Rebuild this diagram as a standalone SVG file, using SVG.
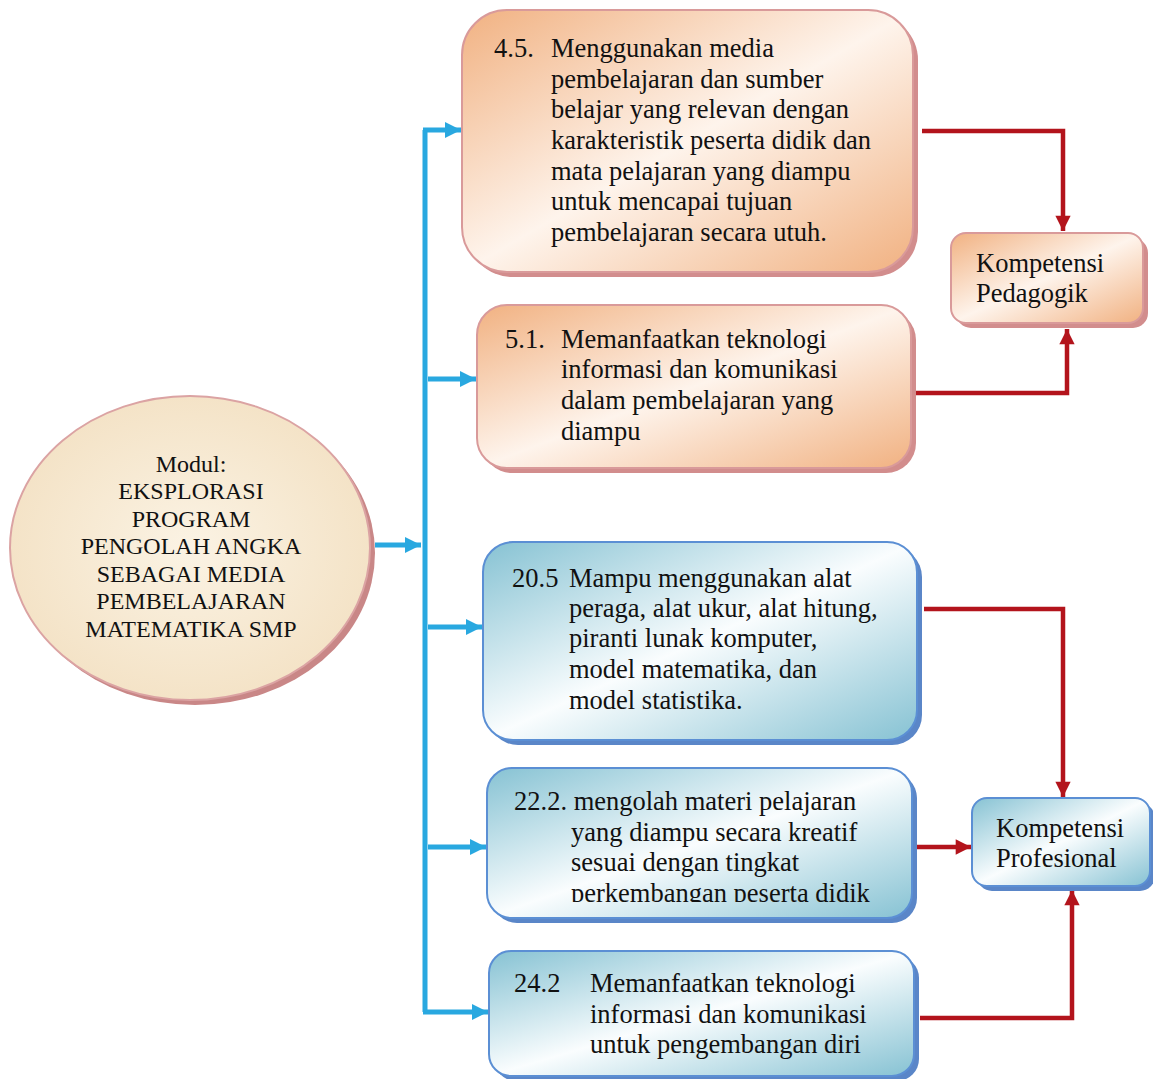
<svg xmlns="http://www.w3.org/2000/svg" width="1153" height="1079" viewBox="0 0 1153 1079">
<style>
.t{font-family:"Liberation Serif","Times New Roman",serif;font-size:26.5px;fill:#111}
.e{font-family:"Liberation Serif","Times New Roman",serif;font-size:24px;fill:#111;text-anchor:middle}
.ob{fill:url(#og);stroke:#d99a9a;stroke-width:2}
.os{fill:#d28d8d}
.bb{fill:url(#bg);stroke:#5b8fd4;stroke-width:2}
.bs{fill:#5a86c8}
.bl{fill:none;stroke:#29a8e0;stroke-width:5}
.rl{fill:none;stroke:#b3141c;stroke-width:4.5}
</style>
<defs>
<linearGradient id="og" x1="0" y1="0" x2="1" y2="1">
<stop offset="0" stop-color="#f1b181"/>
<stop offset="0.5" stop-color="#fef4ec"/>
<stop offset="1" stop-color="#f1b181"/>
</linearGradient>
<linearGradient id="bg" x1="0" y1="0" x2="1" y2="1">
<stop offset="0" stop-color="#86c2d3"/>
<stop offset="0.5" stop-color="#fafdfe"/>
<stop offset="1" stop-color="#86c2d3"/>
</linearGradient>
<radialGradient id="eg" cx="0.5" cy="0.5" r="0.5">
<stop offset="0" stop-color="#fbf3e4"/>
<stop offset="1" stop-color="#f4e3c7"/>
</radialGradient>
<marker id="ba" viewBox="0 0 10 10" refX="10" refY="5" markerWidth="4" markerHeight="3.2" orient="auto" markerUnits="strokeWidth">
<path d="M0,0 L10,5 L0,10 z" fill="#29a8e0"/>
</marker>
<marker id="ra" viewBox="0 0 10 10" refX="10" refY="5" markerWidth="4.2" markerHeight="3.4" orient="auto" markerUnits="strokeWidth">
<path d="M0,0 L10,5 L0,10 z" fill="#b3141c"/>
</marker>
<clipPath id="c22"><rect x="487" y="768" width="425" height="134"/></clipPath>
</defs>

<g id="connectors">
<path class="bl" d="M375,545 H421" marker-end="url(#ba)"/>
<path class="bl" d="M425,1012 V130"/>
<path class="bl" d="M423,130 H461" marker-end="url(#ba)"/>
<path class="bl" d="M428,379 H476" marker-end="url(#ba)"/>
<path class="bl" d="M428,627 H482" marker-end="url(#ba)"/>
<path class="bl" d="M428,847 H486" marker-end="url(#ba)"/>
<path class="bl" d="M423,1012 H488" marker-end="url(#ba)"/>
<path class="rl" d="M922,131 H1063 V231" marker-end="url(#ra)"/>
<path class="rl" d="M915,393 H1067 V329" marker-end="url(#ra)"/>
<path class="rl" d="M924,609 H1063 V797" marker-end="url(#ra)"/>
<path class="rl" d="M917,847 H971" marker-end="url(#ra)"/>
<path class="rl" d="M920,1018 H1072 V890" marker-end="url(#ra)"/>
</g>

<g id="modul">
<ellipse cx="195" cy="553" rx="180" ry="152" fill="#c98787"/>
<ellipse cx="190" cy="548" rx="180" ry="152" fill="url(#eg)" stroke="#dba3a3" stroke-width="2"/>
<text class="e" x="191" y="472">Modul:</text>
<text class="e" x="191" y="499">EKSPLORASI</text>
<text class="e" x="191" y="527">PROGRAM</text>
<text class="e" x="191" y="554">PENGOLAH ANGKA</text>
<text class="e" x="191" y="582">SEBAGAI MEDIA</text>
<text class="e" x="191" y="609">PEMBELAJARAN</text>
<text class="e" x="191" y="637">MATEMATIKA SMP</text>
</g>

<g id="k45">
<rect class="os" x="467" y="15" width="451" height="262" rx="45"/>
<rect class="ob" x="462" y="10" width="451" height="262" rx="45"/>
<text class="t" x="494" y="57">4.5.</text>
<text class="t" x="551" y="57">Menggunakan media</text>
<text class="t" x="551" y="88">pembelajaran dan sumber</text>
<text class="t" x="551" y="118">belajar yang relevan dengan</text>
<text class="t" x="551" y="149">karakteristik peserta didik dan</text>
<text class="t" x="551" y="180">mata pelajaran yang diampu</text>
<text class="t" x="551" y="210">untuk mencapai tujuan</text>
<text class="t" x="551" y="241">pembelajaran secara utuh.</text>
</g>

<g id="k51">
<rect class="os" x="482" y="310" width="434" height="163" rx="30"/>
<rect class="ob" x="477" y="305" width="434" height="163" rx="30"/>
<text class="t" x="505" y="348">5.1.</text>
<text class="t" x="561" y="348">Memanfaatkan teknologi</text>
<text class="t" x="561" y="378">informasi dan komunikasi</text>
<text class="t" x="561" y="409">dalam pembelajaran yang</text>
<text class="t" x="561" y="440">diampu</text>
</g>

<g id="pedagogik">
<rect class="os" x="956" y="238" width="192" height="90" rx="15"/>
<rect class="ob" x="951" y="233" width="192" height="90" rx="15"/>
<text class="t" x="976" y="272">Kompetensi</text>
<text class="t" x="976" y="302">Pedagogik</text>
</g>

<g id="k205">
<rect class="bs" x="488" y="547" width="434" height="198" rx="30"/>
<rect class="bb" x="483" y="542" width="434" height="198" rx="30"/>
<text class="t" x="512" y="587">20.5</text>
<text class="t" x="569" y="587">Mampu menggunakan alat</text>
<text class="t" x="569" y="617">peraga, alat ukur, alat hitung,</text>
<text class="t" x="569" y="647">piranti lunak komputer,</text>
<text class="t" x="569" y="678">model matematika, dan</text>
<text class="t" x="569" y="709">model statistika.</text>
</g>

<g id="k222">
<rect class="bs" x="492" y="773" width="425" height="150" rx="25"/>
<rect class="bb" x="487" y="768" width="425" height="150" rx="25"/>
<g clip-path="url(#c22)">
<text class="t" x="514" y="810">22.2. mengolah materi pelajaran</text>
<text class="t" x="571" y="841">yang diampu secara kreatif</text>
<text class="t" x="571" y="871">sesuai dengan tingkat</text>
<text class="t" x="571" y="902">perkembangan peserta didik</text>
</g>
</g>

<g id="k242">
<rect class="bs" x="494" y="956" width="425" height="125" rx="22"/>
<rect class="bb" x="489" y="951" width="425" height="125" rx="22"/>
<text class="t" x="514" y="992">24.2</text>
<text class="t" x="590" y="992">Memanfaatkan teknologi</text>
<text class="t" x="590" y="1023">informasi dan komunikasi</text>
<text class="t" x="590" y="1053">untuk pengembangan diri</text>
</g>

<g id="profesional">
<rect class="bs" x="977" y="803" width="178" height="88" rx="15"/>
<rect class="bb" x="972" y="798" width="178" height="88" rx="15"/>
<text class="t" x="996" y="837">Kompetensi</text>
<text class="t" x="996" y="867">Profesional</text>
</g>
</svg>
